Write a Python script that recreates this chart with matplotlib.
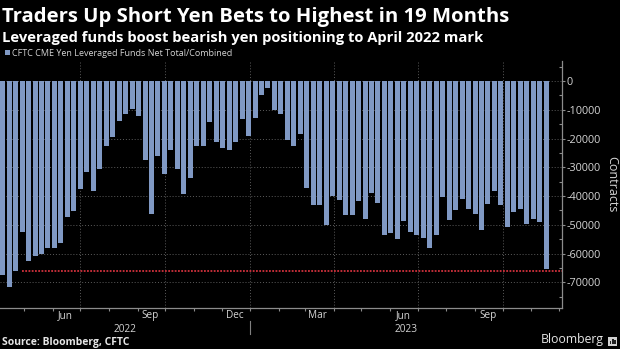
import matplotlib
matplotlib.use("Agg")
import matplotlib.pyplot as plt
import matplotlib.dates as mdates
import matplotlib.transforms as mtransforms
from matplotlib.patches import Rectangle
import pandas as pd
import numpy as np

# ---------------- data ----------------
title = "Traders Up Short Yen Bets to Highest in 19 Months"
subtitle = "Leveraged funds boost bearish yen positioning to April 2022 mark"
series_name = "CFTC CME Yen Leveraged Funds Net Total/Combined"
source = "Source: Bloomberg, CFTC"
y_label = "Contracts"

first_week = "2022-04-08"
n_weeks = 85
net_positions = [
    -67300, -71500, -65900, -52500, -62600, -60700, -60300, -58200, -58200, -56400,
    -47300, -45100, -37600, -31600, -38400, -30700, -22700, -19600, -13800, -11600,
    -9900, -12300, -27500, -46100, -26200, -32300, -24100, -30600, -39300, -33700,
    -22700, -22700, -14400, -21200, -23200, -23900, -21200, -13100, -19000, -12800,
    -4800, -2300, -10200, -11400, -20400, -22700, -18400, -37300, -43200, -43200,
    -50000, -39900, -41400, -46500, -46500, -41700, -47900, -38900, -42500, -53400,
    -52900, -54900, -48800, -52600, -53600, -54500, -58000, -53600, -40500, -48300,
    -45000, -40900, -44600, -46100, -51700, -42700, -38400, -43100, -50800, -45600,
    -44600, -49700, -48100, -48900, -65400,
]
highlight_level = -66000
highlight_start_index = 3
y_ticks = [0, -10000, -20000, -30000, -40000, -50000, -60000, -70000]
y_tick_labels = ["0", "-10000", "-20000", "-30000", "-40000", "-50000", "-60000", "-70000"]
month_labels = ["Mar", "Jun", "Sep", "Dec"]

# ---------------- style ----------------
W, H = 620, 349
BG = "#000000"
BAR = "#8099c4"
GRID = "#5c5c5c"
SPINE = "#8c8c8c"
TXT = "#d4d4d4"
RED = "#d0313c"
plt.rcParams["font.family"] = ["Open Sans", "DejaVu Sans"]

dates = pd.date_range(first_week, periods=n_weeks, freq="7D")
x = mdates.date2num(dates)

fig = plt.figure(figsize=(W / 100, H / 100), dpi=100, facecolor=BG)
ax_left, ax_right, ax_top, ax_bottom = 0, 562, 61, 307.7
ax = fig.add_axes([ax_left / W, 1 - ax_bottom / H, (ax_right - ax_left) / W, (ax_bottom - ax_top) / H])
ax.set_facecolor(BG)

px_per_day = 0.9243
first_px, last_px = 2.7, 546.2
ax.set_xlim(x[0] - first_px / px_per_day, x[-1] + (ax_right - last_px) / px_per_day)
y0_px, px_per_unit = 81, 28.76 / 10000
ax.set_ylim(-(ax_bottom - y0_px) / px_per_unit, (y0_px - ax_top) / px_per_unit)

ax.bar(x, net_positions, width=5.4, color=BAR, zorder=2)

# gridlines
for yt in y_ticks:
    ax.axhline(yt, color=GRID, lw=0.7, ls=(0, (1, 2)), zorder=1)
xmin_d, xmax_d = ax.get_xlim()
qstarts = pd.date_range("2022-01-01", "2024-01-01", freq="QS")
for q in qstarts:
    qn = mdates.date2num(q)
    if xmin_d < qn < xmax_d:
        ax.axvline(qn, color=GRID, lw=0.7, ls=(0, (1, 2)), zorder=1)

# highlight line
ax.hlines(highlight_level, x[highlight_start_index], xmax_d, color=RED, lw=1.3,
          ls=(0, (1, 0.8)), zorder=3)

# spines
for s in ["left", "top"]:
    ax.spines[s].set_visible(False)
for s in ["right", "bottom"]:
    ax.spines[s].set_color(SPINE)
    ax.spines[s].set_linewidth(0.9)

# y axis on right
ax.yaxis.tick_right()
ax.set_yticks(y_ticks)
ax.set_yticklabels(y_tick_labels)
ax.set_yticks(np.arange(-75000, 10000, 10000), minor=True)
ax.tick_params(axis="y", which="major", direction="out", length=2, width=0.8,
               color=SPINE, labelcolor=TXT, labelsize=7.8, pad=1)
ax.tick_params(axis="y", which="minor", direction="in", length=2, width=0.8, color=SPINE)
fig.text(612 / W, 1 - 184 / H, y_label, rotation=270, ha="center", va="center",
         color=TXT, fontsize=9)

# x axis: monthly ticks, labels mid-month
month_starts = pd.date_range("2022-01-01", "2024-01-01", freq="MS")
ms = [mdates.date2num(m) for m in month_starts if xmin_d < mdates.date2num(m) < xmax_d]
ax.set_xticks(ms)
ax.set_xticklabels([])
mids, mid_labels = [], []
for m in month_starts:
    mid = m + pd.Timedelta(days=14)
    mn = mdates.date2num(mid)
    if m.strftime("%b") in month_labels and xmin_d < mn < xmax_d:
        mids.append(mn)
        mid_labels.append(m.strftime("%b"))
ax.set_xticks(mids, minor=True)
ax.set_xticklabels(mid_labels, minor=True)
ax.tick_params(axis="x", which="major", direction="out", length=2, width=0.8, color=SPINE)
ax.tick_params(axis="x", which="minor", length=0, labelcolor=TXT, labelsize=7.2, pad=2)

# year labels and separator
trans = mtransforms.blended_transform_factory(ax.transData, ax.transAxes)
ax_h = ax_bottom - ax_top
yr_boundary = mdates.date2num(pd.Timestamp("2023-01-01"))
ax.plot([yr_boundary, yr_boundary], [-(320.7 - ax_bottom) / ax_h, -(334 - ax_bottom) / ax_h],
        transform=trans, color="#808080", lw=0.8, clip_on=False)
for yr, a, b in [("2022", xmin_d, yr_boundary), ("2023", yr_boundary, xmax_d)]:
    ax.text((a + b) / 2, -(332.3 - ax_bottom) / ax_h, yr, transform=trans, ha="center",
            va="baseline", color=TXT, fontsize=7.3)

# titles
fig.text(2 / W, 1 - 21.7 / H, title, color="white", fontsize=14.6, fontweight="bold", va="baseline")
fig.text(2 / W, 1 - 41.8 / H, subtitle, color="white", fontsize=10.6, fontweight="bold", va="baseline")

# legend
fig.patches.append(Rectangle((5 / W, 1 - 55 / H), 5 / W, 5 / H, transform=fig.transFigure,
                             facecolor=BAR, edgecolor="none"))
fig.text(12 / W, 1 - 55.7 / H, series_name, color=TXT, fontsize=6.5, va="baseline")

# source and logo
fig.text(2 / W, 1 - 345.3 / H, source, color="#e6e6e6", fontsize=7.5, fontweight="bold", va="baseline")
fig.text(604 / W, 1 - 343.3 / H, "Bloomberg", color="#e6e6e6", fontsize=8.8, ha="right", va="baseline")
fig.patches.append(Rectangle((608 / W, 1 - 345.5 / H), 9 / W, 9 / H, transform=fig.transFigure,
                             facecolor="#d0d0d0", edgecolor="none"))
for bx, bh in [(610.2, 3.5), (612.3, 5.5), (614.4, 4.2)]:
    fig.patches.append(Rectangle((bx / W, 1 - 344 / H), 1.2 / W, bh / H, transform=fig.transFigure,
                                 facecolor="#202020", edgecolor="none"))

fig.savefig("out.png", dpi=100, facecolor=BG)
